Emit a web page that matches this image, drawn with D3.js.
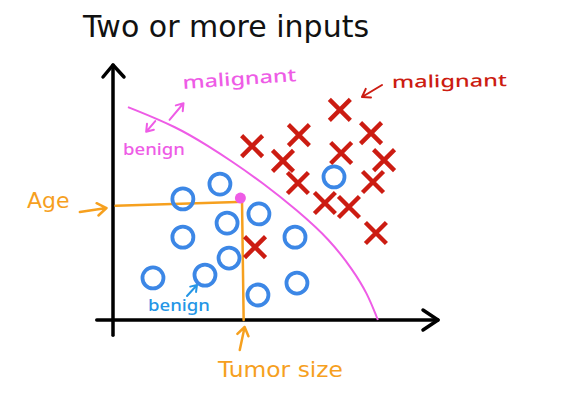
<!DOCTYPE html>
<html>
<head>
<meta charset="utf-8">
<script src="https://cdn.jsdelivr.net/npm/d3@7"></script>
<style>
  body { margin: 0; background: #fff; }
  svg { display: block; }
  .hand { font-family: "Noto Sans", sans-serif; }
</style>
</head>
<body>
<svg id="chart" width="587" height="397"></svg>
<script>
// tumor size (x) / age (y), arbitrary units 0..10
const benignX = [1.23, 2.83, 3.57, 3.51, 2.15, 3.29, 2.15, 4.49, 5.60, 4.46, 5.66, 6.80];
const benignY = [1.65, 1.76, 2.43, 3.80, 4.75, 5.33, 3.25, 4.16, 3.25, 0.98, 1.45, 5.61];

const malignantX = [6.98, 5.72, 4.28, 7.94, 5.23, 7.02, 8.34, 5.69, 8.00, 6.52, 7.26, 8.09, 4.37];
const malignantY = [8.24, 7.25, 6.82, 7.33, 6.24, 6.55, 6.27, 5.37, 5.41, 4.59, 4.43, 3.41, 2.86];

// hand drawn decision boundary
const boundaryX = [0.46, 1.97, 2.98, 3.60, 4.62, 5.66, 6.68, 7.38, 7.82, 8.15];
const boundaryY = [8.35, 7.57, 6.78, 6.27, 5.37, 4.31, 3.14, 1.96, 1.06, 0];

// the new patient
const queryPoint = [3.92, 4.78];

const titleText = "Two or more inputs";
const xLabel = "Tumor size";
const yLabel = "Age";

const svg = d3.select("#chart");

const x = d3.scaleLinear().domain([0, 10]).range([113, 438]);
const y = d3.scaleLinear().domain([0, 10]).range([320, 65]);

const red = "#cc1c12", blue = "#3c87e6", pink = "#ee5ce6", orange = "#f6a01e";

// title
svg.append("text")
    .attr("x", 83).attr("y", 37)
    .attr("font-family", "DejaVu Sans, Verdana, sans-serif")
    .attr("font-size", 30)
    .attr("fill", "#111")
    .text(titleText);

// axes (drawn like arrows)
const axes = svg.append("g")
    .attr("stroke", "#000").attr("stroke-width", 3.5)
    .attr("fill", "none").attr("stroke-linecap", "round").attr("stroke-linejoin", "round");

axes.append("line")
    .attr("x1", x(-0.5)).attr("y1", y(0))
    .attr("x2", x(10)).attr("y2", y(0));
axes.append("path")
    .attr("d", `M${x(10) - 15},${y(0) - 10} L${x(10)},${y(0)} L${x(10) - 15},${y(0) + 10}`);

axes.append("line")
    .attr("x1", x(0)).attr("y1", y(-0.6))
    .attr("x2", x(0)).attr("y2", y(10));
axes.append("path")
    .attr("d", `M${x(0) - 10},${y(10) + 12} L${x(0)},${y(10)} L${x(0) + 11},${y(10) + 12}`);

// orange guide lines to the query point
const guide = svg.append("g")
    .attr("stroke", orange).attr("stroke-width", 2.5).attr("fill", "none")
    .attr("stroke-linecap", "round");
guide.append("line")
    .attr("x1", x(0.08)).attr("y1", y(queryPoint[1] - 0.3))
    .attr("x2", x(queryPoint[0] - 0.1)).attr("y2", y(queryPoint[1] - 0.15));
guide.append("line")
    .attr("x1", x(queryPoint[0] + 0.05)).attr("y1", y(queryPoint[1] - 0.15))
    .attr("x2", x(queryPoint[0] + 0.1)).attr("y2", y(0));

// decision boundary
const line = d3.line()
    .x(d => x(d[0])).y(d => y(d[1]))
    .curve(d3.curveBasis);
svg.append("path")
    .datum(d3.zip(boundaryX, boundaryY))
    .attr("d", line)
    .attr("fill", "none")
    .attr("stroke", pink).attr("stroke-width", 2);

// benign circles
svg.append("g").selectAll("circle")
    .data(d3.zip(benignX, benignY))
    .join("circle")
    .attr("cx", d => x(d[0])).attr("cy", d => y(d[1]))
    .attr("r", 10.5)
    .attr("fill", "none")
    .attr("stroke", blue).attr("stroke-width", 3.8);

// malignant crosses
const arm = 10.5;
svg.append("g").selectAll("path")
    .data(d3.zip(malignantX, malignantY))
    .join("path")
    .attr("d", d => {
        const cx = x(d[0]), cy = y(d[1]);
        return `M${cx - arm},${cy - arm} L${cx + arm},${cy + arm} M${cx + arm},${cy - arm} L${cx - arm},${cy + arm}`;
    })
    .attr("fill", "none")
    .attr("stroke", red).attr("stroke-width", 4.4);

// query point
svg.append("circle")
    .attr("cx", x(queryPoint[0])).attr("cy", y(queryPoint[1]))
    .attr("r", 5.5).attr("fill", pink);

// little arrows from tail to tip
function arrow(x1, y1, x2, y2, color, width, head) {
    const a = Math.atan2(y2 - y1, x2 - x1);
    const h = head || 8;
    const p1 = [x2 - h * Math.cos(a - 0.6), y2 - h * Math.sin(a - 0.6)];
    const p2 = [x2 - h * Math.cos(a + 0.6), y2 - h * Math.sin(a + 0.6)];
    svg.append("path")
        .attr("d", `M${x1},${y1} L${x2},${y2} M${p1[0]},${p1[1]} L${x2},${y2} L${p2[0]},${p2[1]}`)
        .attr("fill", "none").attr("stroke", color)
        .attr("stroke-width", width).attr("stroke-linecap", "round").attr("stroke-linejoin", "round");
}

// pink arrows either side of the boundary
arrow(x(1.74), y(7.85), x(2.17), y(8.5), pink, 2, 8);
arrow(x(1.3), y(7.8), x(1.02), y(7.38), pink, 2, 8);
// red arrow to malignant group
arrow(382, 85, 362, 97, red, 2, 9);
// blue arrow to benign
arrow(187, 296, 197, 285, "#2596e6", 2, 7);
// Age arrow
arrow(x(-1.02), 212, x(-0.2), 208, orange, 2.5, 11);
// Tumor size arrow
arrow(x(3.9), 350, x(4.05), 327, orange, 2.5, 10);

// labels
function label(txt, px, py, size, color, len, rot, family) {
    const t = svg.append("text")
        .attr("x", px).attr("y", py)
        .attr("font-size", size)
        .attr("fill", color)
        .text(txt);
    if (family) t.attr("font-family", family); else t.attr("class", "hand").attr("font-weight", 500);
    if (len) t.attr("textLength", len).attr("lengthAdjust", "spacingAndGlyphs");
    if (rot) t.attr("transform", `rotate(${rot},${px},${py})`);
    return t;
}

label("malignant", 183, 89, 18, pink, 114, -4);
label("benign", 123, 155, 16, pink, 62, 0);
label("malignant", 392, 88, 17, red, 115, -1);
label("benign", 148, 311, 16, "#2596e6", 62, 0);
label(yLabel, 27, 208, 22, orange, 0, 0, "DejaVu Sans, Verdana, sans-serif");
label(xLabel, 218, 377, 22, orange, 125, 0, "DejaVu Sans, Verdana, sans-serif");
</script>
</body>
</html>
